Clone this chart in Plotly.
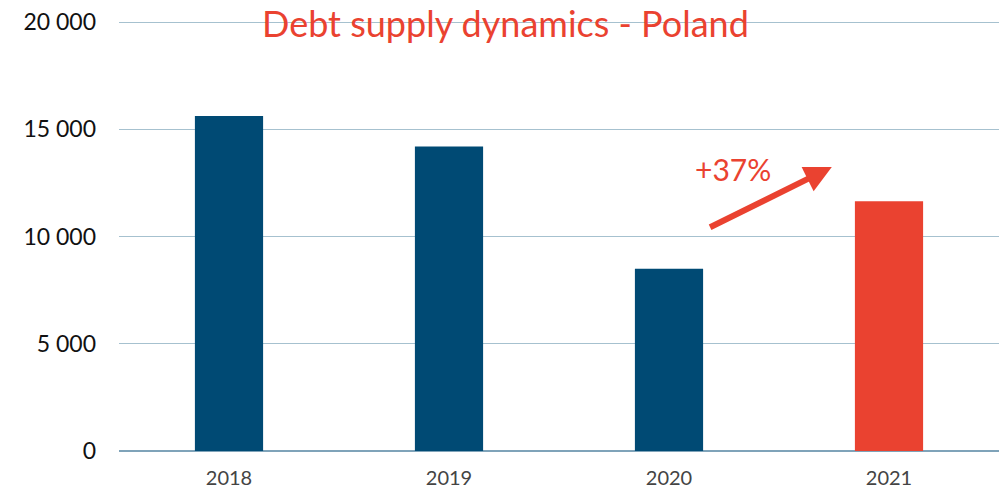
import plotly.graph_objects as go

# Debt supply by year (Poland)
years = ["2018", "2019", "2020", "2021"]
supply = [15620, 14200, 8500, 11650]
bar_colors = ["#004a74", "#004a74", "#004a74", "#ea4230"]

y_ticks = [0, 5000, 10000, 15000, 20000]
y_tick_labels = ["0", "5 000", "10 000", "15 000", "20 000"]

growth_label = "+37%"

fig = go.Figure()
fig.add_trace(go.Bar(
    x=years,
    y=supply,
    marker=dict(color=bar_colors, line=dict(width=0)),
    width=0.31,
    hoverinfo="x+y",
))

fig.update_layout(
    width=1000,
    height=492,
    margin=dict(l=119, r=1, t=21, b=41),
    paper_bgcolor="white",
    plot_bgcolor="white",
    showlegend=False,
    font=dict(family="Lato", color="#222222"),
    xaxis=dict(
        type="category",
        showgrid=False,
        showline=False,
        ticks="",
        tickfont=dict(size=20, color="#444444"),
        ticklabelstandoff=13,
    ),
    yaxis=dict(
        range=[0, 20050],
        tickvals=y_ticks,
        ticktext=y_tick_labels,
        showgrid=True,
        gridcolor="#a6c1cf",
        gridwidth=1,
        zeroline=True,
        zerolinecolor="#7fa3b9",
        zerolinewidth=2,
        showline=False,
        ticks="",
        tickfont=dict(size=23, color="#111111"),
        ticklabelstandoff=22,
    ),
    annotations=[
        dict(
            text="Debt supply dynamics - Poland",
            xref="paper", yref="paper",
            x=0.439, y=0.995,
            xanchor="center", yanchor="middle",
            showarrow=False,
            font=dict(size=36, color="#ea4230", family="Lato"),
        ),
        dict(
            text=growth_label,
            xref="x", yref="y",
            x=2.29, y=13150,
            xanchor="center", yanchor="middle",
            showarrow=False,
            font=dict(size=30, color="#ea4230", family="Lato"),
        ),
        dict(
            text="",
            xref="x", yref="y",
            axref="x", ayref="y",
            x=2.74, y=13240,
            ax=2.18, ay=10396,
            showarrow=True,
            arrowhead=2,
            arrowsize=0.9,
            arrowwidth=6,
            arrowcolor="#ea4230",
        ),
    ],
)

fig.write_html("out.html")
